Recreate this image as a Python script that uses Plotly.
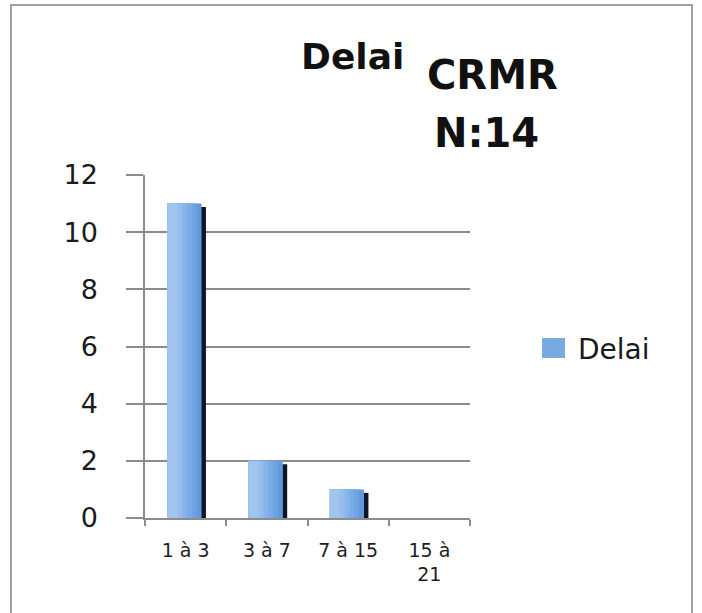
import plotly.graph_objects as go

# Delay classes (days) and number of cases
categories = ["1 à 3", "3 à 7", "7 à 15", "15 à<br>21"]
counts = [11, 2, 1, 0]
series_name = "Delai"
y_ticks = [0, 2, 4, 6, 8, 10, 12]

# plot-area geometry in pixels, used to place paper-anchored decorations
W, H = 702, 613
L, R, T, B = 145, 232, 175, 95
PW, PH = W - L - R, H - T - B


def px_x(x):
    return (x - L) / PW


def px_y(y):
    return (H - B - y) / PH


fig = go.Figure()

# dark right-hand edge that gives the bars their bevelled look
fig.add_trace(go.Bar(
    x=categories, y=[max(v - 0.12, 0) if v else 0 for v in counts],
    width=0.06, offset=0.19,
    marker=dict(color="#0b1626", line=dict(width=0)),
    showlegend=False, hoverinfo="skip",
))

# bar body: nested layers, widest/darkest first, giving a soft left-to-right shading
BAR_LEFT = -0.225
shade_layers = [
    (0.42, "#6199dc"),
    (0.36, "#6ea3e2"),
    (0.30, "#7aace6"),
    (0.24, "#88b5e9"),
    (0.18, "#96beec"),
    (0.12, "#a2c5ee"),
]
for i, (w, col) in enumerate(shade_layers):
    fig.add_trace(go.Bar(
        x=categories, y=counts, name=series_name,
        width=w, offset=BAR_LEFT,
        marker=dict(color=col, line=dict(width=0)),
        showlegend=False,
        hoverinfo=None if i == 0 else "skip",
    ))

axis_col = "#8c8c8c"
fig.update_layout(
    width=W, height=H,
    margin=dict(l=L, r=R, t=T, b=B),
    paper_bgcolor="white", plot_bgcolor="white",
    barmode="overlay",
    showlegend=False,
    font=dict(family="DejaVu Sans", color="#1a1a1a"),
    xaxis=dict(
        type="category", tickson="boundaries",
        showgrid=False, showline=True, linecolor=axis_col, linewidth=1.5,
        ticks="outside", ticklen=6, tickcolor=axis_col, tickwidth=1.5,
        tickfont=dict(family="DejaVu Sans", size=19, color="#1e1e1e"),
        ticklabelstandoff=14,
        range=[-0.5, 3.5],
    ),
    yaxis=dict(
        range=[0, 12], tickvals=y_ticks,
        showgrid=True, gridcolor=axis_col, gridwidth=1.5,
        showline=True, linecolor=axis_col, linewidth=1.5,
        ticks="outside", ticklen=17, tickcolor=axis_col, tickwidth=1.5,
        tickfont=dict(family="DejaVu Sans", size=27, color="#1a1a1a"),
        ticklabelstandoff=23,
        zeroline=False,
    ),
)

# chart frame
fig.add_shape(
    type="rect", xref="paper", yref="paper",
    x0=px_x(11), x1=px_x(692), y0=px_y(640), y1=px_y(5),
    line=dict(color="#a0a0a0", width=2), fillcolor="rgba(0,0,0,0)",
    layer="below",
)

# legend key
fig.add_shape(
    type="rect", xref="paper", yref="paper",
    x0=px_x(542), x1=px_x(565), y0=px_y(358), y1=px_y(338),
    line=dict(width=0), fillcolor="#7aaae4",
)
fig.add_annotation(
    xref="paper", yref="paper", x=px_x(576), y=px_y(349),
    xanchor="left", yanchor="middle", showarrow=False,
    text=series_name, font=dict(family="DejaVu Sans", size=28, color="#1a1a1a"),
)

# chart title and sample notes
fig.add_annotation(
    xref="paper", yref="paper", x=px_x(352), y=px_y(57),
    xanchor="center", yanchor="middle", showarrow=False,
    text="<b>Delai</b>", font=dict(family="DejaVu Sans", size=36, color="#111111"),
)
fig.add_annotation(
    xref="paper", yref="paper", x=px_x(425), y=px_y(75),
    xanchor="left", yanchor="middle", showarrow=False,
    text="<b>CRMR</b>", font=dict(family="DejaVu Sans", size=40, color="#111111"),
)
fig.add_annotation(
    xref="paper", yref="paper", x=px_x(432), y=px_y(133),
    xanchor="left", yanchor="middle", showarrow=False,
    text="<b>N:14</b>", font=dict(family="DejaVu Sans", size=40, color="#111111"),
)

fig.write_html("out.html")
